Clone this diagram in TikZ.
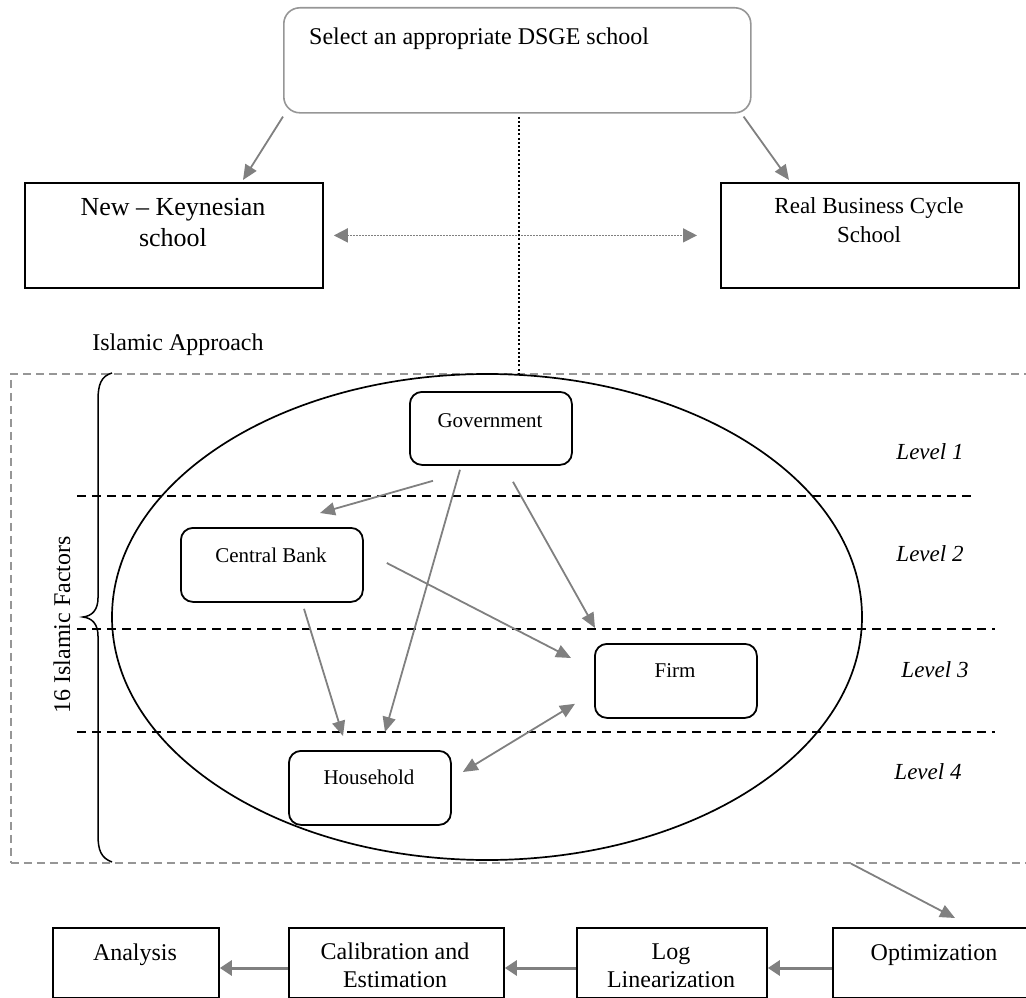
\documentclass[tikz,border=0pt]{standalone}
\usepackage{fontspec}
\setmainfont{Liberation Serif}
\usetikzlibrary{arrows.meta,calc,shapes.geometric}
\definecolor{arrowgray}{RGB}{128,128,128}
\definecolor{framegray}{RGB}{150,150,150}
\tikzset{
  sqbox/.style={draw, line width=1.8pt, anchor=north west, inner sep=0pt},
  rbox/.style={sqbox, rounded corners=12pt},
  garrow/.style={draw=arrowgray, line width=1.8pt, -{Triangle[length=15pt,width=13pt]}},
  flowarrow/.style={draw=arrowgray, line width=3pt, -{Triangle[length=12pt,width=15pt]}},
  levelline/.style={draw, line width=1.5pt, dash pattern=on 9pt off 6pt},
  txt/.style={inner sep=0pt, align=center},
  fa/.style={font=\fontsize{24}{28}\selectfont},
  fb/.style={font=\fontsize{21}{25}\selectfont},
  fl/.style={font=\fontsize{23}{27}\selectfont\itshape},
}
\begin{document}
\begin{tikzpicture}[x=1pt,y=-1pt]
\path[use as bounding box] (0,0) rectangle (1026,998);
\clip (0,0) rectangle (1026,998);

% top part
\node[rbox, draw=framegray, line width=1.6pt, rounded corners=16pt, minimum width=467pt, minimum height=105pt] (dsge) at (283,7) {};
\node[txt, fa, anchor=base west] (dsgetxt) at (309,45) {Select an appropriate DSGE school};

\node[sqbox, minimum width=298pt, minimum height=105pt] (nk) at (24,182) {};
\node[txt, font=\fontsize{26}{31}\selectfont, anchor=north] (nktxt) at (173,198) {New – Keynesian\\school};

\node[sqbox, minimum width=298pt, minimum height=105pt] (rbc) at (720,182) {};
\node[txt, font=\fontsize{23}{29}\selectfont, anchor=north] (rbctxt) at (869,197) {Real Business Cycle\\School};

\draw[garrow] ($(dsge.south west)+(0,3)$) -- ($(nk.north west)+(219,-2)$);
\draw[garrow] ($(dsge.south east)+(-8,3)$) -- ($(rbc.north west)+(69,-2)$);
\draw[arrowgray, line width=1.6pt, dash pattern=on 1.5pt off 1.5pt,
      {Triangle[length=14pt,width=14pt]}-{Triangle[length=14pt,width=14pt]}]
      ($(nk.east)+(10,0)$) -- ($(rbc.west)+(-23,0)$);

\node[txt, fa, anchor=base] (apptxt) at (178,350) {Islamic Approach};

% Islamic approach frame
\node[sqbox, draw=framegray, line width=1.6pt, dash pattern=on 8pt off 5pt, minimum width=1020pt, minimum height=489pt] (islamic) at (10,373) {};
\coordinate (dotend) at ($(dsge.south)+(1.5,3)$);
\draw[line width=1.6pt, dash pattern=on 2pt off 2.2pt] (dotend) -- (dotend |- islamic.north);

% ellipse
\node[draw, ellipse, line width=1.7pt, minimum width=750pt, minimum height=486pt, inner sep=0pt] (field) at (487,617) {};

% level lines
\draw[levelline] (77,496) -- (975,496);
\draw[levelline] (77,629) -- (995,629);
\draw[levelline] (77,732) -- (995,732);

% brace
\draw[line width=1.5pt] (112,373) .. controls (101,376) and (98,385) .. (98,400) -- (98,598)
  .. controls (98,610) and (92,616) .. (83,617) .. controls (92,618) and (98,624) .. (98,636)
  -- (98,835) .. controls (98,850) and (101,858) .. (112,862);
\node[txt, fa, rotate=90, anchor=base] (factors) at (70,625) {16 Islamic Factors};

% inner boxes
\node[rbox, minimum width=162pt, minimum height=73pt] (gov) at (409,391) {};
\node[txt, fb, anchor=base] (govtxt) at (490,427) {Government};
\node[rbox, minimum width=182pt, minimum height=74pt] (cb) at (180,527) {};
\node[txt, fb, anchor=base] (cbtxt) at (271,562) {Central Bank};
\node[rbox, minimum width=162pt, minimum height=74pt] (hh) at (288,750) {};
\node[txt, fb, anchor=base] (hhtxt) at (369,784) {Household};
\node[rbox, minimum width=162pt, minimum height=74pt] (firm) at (594,643) {};
\node[txt, fb, anchor=base] (firmtxt) at (675,677) {Firm};

% level labels
\node[txt, fl, anchor=base] (l1) at (930,459) {Level 1};
\node[txt, fl, anchor=base] (l2) at (930,561) {Level 2};
\node[txt, fl, anchor=base] (l3) at (935,677) {Level 3};
\node[txt, fl, anchor=base] (l4) at (928,779) {Level 4};

% inner arrows
\draw[garrow] ($(gov.south west)+(24,15)$) -- ($(cb.north west)+(140,-14)$);
\draw[garrow] ($(gov.south west)+(51,4)$) -- ($(hh.north west)+(97,-18)$);
\draw[garrow] ($(gov.south west)+(104,16)$) -- ($(firm.north west)+(1,-15)$);
\draw[garrow] ($(cb.south west)+(124,6)$) -- ($(hh.north west)+(55,-14)$);
\draw[garrow] ($(cb.north east)+(23,36)$) -- ($(firm.north west)+(-23,15)$);
\draw[garrow, {Triangle[length=15pt,width=13pt]}-{Triangle[length=15pt,width=13pt]}]
  ($(hh.north east)+(11,22)$) -- ($(firm.south west)+(-19,-15)$);

% bottom flow
\node[sqbox, minimum width=166pt, minimum height=70pt] (an) at (52,927) {};
\node[txt, fa, anchor=base] (antxt) at (135,960) {Analysis};
\node[sqbox, minimum width=215pt, minimum height=70pt] (cal) at (288,927) {};
\node[txt, fa, anchor=north] (caltxt) at (395,943) {Calibration and\\Estimation};
\node[sqbox, minimum width=190pt, minimum height=70pt] (log) at (576,927) {};
\node[txt, fa, anchor=north] (logtxt) at (671,944) {Log\\Linearization};
\node[sqbox, minimum width=204pt, minimum height=70pt] (opt) at (832,927) {};
\node[txt, fa, anchor=base] (opttxt) at (934,960) {Optimization};

\draw[garrow] ($(islamic.south west)+(841,0)$) -- ($(opt.north west)+(123,-9)$);
\draw[flowarrow] ($(opt.north west)+(0,41)$) -- ($(log.north east)+(0,41)$);
\draw[flowarrow] ($(log.north west)+(0,41)$) -- ($(cal.north east)+(0,41)$);
\draw[flowarrow] ($(cal.north west)+(0,41)$) -- ($(an.north east)+(0,41)$);
\end{tikzpicture}
\end{document}
